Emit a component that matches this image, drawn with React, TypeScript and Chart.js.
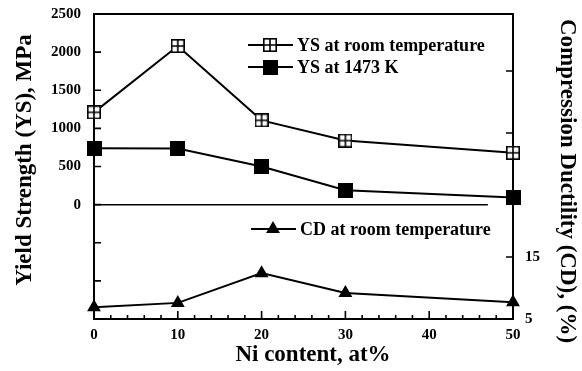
import React, { useEffect, useRef } from 'react';
import { Chart, registerables } from 'chart.js';

Chart.register(...registerables);

// ---- data ----
const niContent = [0, 10, 20, 30, 50];
const ysRoom = [1210, 2080, 1105, 840, 680];
const ys1473 = [740, 735, 500, 190, 95];
const cdRoom = [6.9, 7.6, 12.4, 9.2, 7.7];
const zeroLineX = [0, 47];
const zeroLineY = [0, 0];

const xMajorTicks = [0, 10, 20, 30, 40, 50];
const xMinorStep = 2;
const ysTicks = [-1500, -1000, -500, 0, 500, 1000, 1500, 2000, 2500];
const cdTicks = [5, 15, 25, 35, 45];
const cdLabelled = [5, 15];

const seriesLabels = ['YS at room temperature', 'YS at 1473 K', 'CD at room temperature'];
const xTitle = 'Ni content, at%';
const yTitle = 'Yield Strength (YS), MPa';
const y2Title = 'Compression Ductility (CD), (%)';

const FONT = '"Liberation Serif", "Times New Roman", serif';

function makeBoxedPlus(size: number) {
  const c = document.createElement('canvas');
  c.width = size;
  c.height = size;
  const g = c.getContext('2d')!;
  g.fillStyle = '#fff';
  g.fillRect(0, 0, size, size);
  g.strokeStyle = '#000';
  g.lineWidth = 1.6;
  g.strokeRect(0.8, 0.8, size - 1.6, size - 1.6);
  g.beginPath();
  g.moveTo(size / 2, 0);
  g.lineTo(size / 2, size);
  g.moveTo(0, size / 2);
  g.lineTo(size, size / 2);
  g.stroke();
  return c;
}

function makeFilledSquare(size: number) {
  const c = document.createElement('canvas');
  c.width = size;
  c.height = size;
  const g = c.getContext('2d')!;
  g.fillStyle = '#000';
  g.fillRect(0, 0, size, size);
  return c;
}

export default function App() {
  const ref = useRef<HTMLCanvasElement>(null);

  useEffect(() => {
    const canvas = ref.current!;
    const boxedPlus = makeBoxedPlus(14);
    const filledSq = makeFilledSquare(15);

    const drawMarker = (ctx: CanvasRenderingContext2D, kind: number, x: number, y: number) => {
      if (kind === 0) ctx.drawImage(boxedPlus, x - 7, y - 7);
      else if (kind === 1) ctx.drawImage(filledSq, x - 7.5, y - 7.5);
      else {
        const r = 8;
        ctx.beginPath();
        ctx.moveTo(x, y - r);
        ctx.lineTo(x + r * Math.sin((2 * Math.PI) / 3), y - r * Math.cos((2 * Math.PI) / 3));
        ctx.lineTo(x + r * Math.sin((4 * Math.PI) / 3), y - r * Math.cos((4 * Math.PI) / 3));
        ctx.closePath();
        ctx.fillStyle = '#000';
        ctx.fill();
      }
    };

    const decor = {
      id: 'decor',
      beforeDatasetsDraw(chart: any) {
        const ctx: CanvasRenderingContext2D = chart.ctx;
        const { left, right, top, bottom } = chart.chartArea;
        const xs = chart.scales.x;
        const ys = chart.scales.y;
        const y2 = chart.scales.y2;
        ctx.save();
        ctx.strokeStyle = '#000';
        ctx.lineWidth = 2;
        ctx.strokeRect(left, top, right - left, bottom - top);

        // inward ticks
        ctx.lineWidth = 1.6;
        ctx.beginPath();
        for (let v = xs.min; v <= xs.max + 1e-9; v += xMinorStep) {
          const px = xs.getPixelForValue(v);
          const len = xMajorTicks.includes(v) ? 8 : 4;
          ctx.moveTo(px, bottom);
          ctx.lineTo(px, bottom - len);
        }
        ysTicks.forEach((v) => {
          const py = ys.getPixelForValue(v);
          ctx.moveTo(left, py);
          ctx.lineTo(left + 7, py);
        });
        cdTicks.forEach((v) => {
          const py = y2.getPixelForValue(v);
          ctx.moveTo(right, py);
          ctx.lineTo(right - 7, py);
        });
        ctx.stroke();
        ctx.restore();
      },
      afterDraw(chart: any) {
        const ctx: CanvasRenderingContext2D = chart.ctx;
        ctx.save();
        // axis titles
        ctx.fillStyle = '#000';
        ctx.strokeStyle = '#000';
        ctx.font = `bold 23px ${FONT}`;
        ctx.textAlign = 'center';
        ctx.textBaseline = 'middle';
        ctx.fillText(xTitle, 313, 355);
        ctx.save();
        ctx.translate(25, 160);
        ctx.rotate(-Math.PI / 2);
        ctx.fillText(yTitle, 0, 0);
        ctx.restore();
        ctx.save();
        ctx.translate(567, 181);
        ctx.rotate(Math.PI / 2);
        ctx.fillText(y2Title, 0, 0);
        ctx.restore();

        // legend
        const entries = [
          { x: 248, y: 45 },
          { x: 248, y: 67 },
          { x: 251, y: 229 },
        ];
        ctx.font = `bold 18px ${FONT}`;
        ctx.textAlign = 'left';
        ctx.textBaseline = 'middle';
        entries.forEach((e, i) => {
          ctx.lineWidth = 2;
          ctx.beginPath();
          ctx.moveTo(e.x, e.y);
          ctx.lineTo(e.x + 45, e.y);
          ctx.stroke();
          drawMarker(ctx, i, e.x + 22, e.y);
          ctx.fillStyle = '#000';
          ctx.fillText(seriesLabels[i], e.x + 49, e.y + 1);
        });
        ctx.restore();
      },
    };

    const pts = (xs: number[], ys: number[]) => xs.map((x, i) => ({ x, y: ys[i] }));

    const tickFont = { family: FONT, size: 15, weight: 'bold' };
    const noPad = (s: any) => {
      s.paddingTop = 0;
      s.paddingBottom = 0;
      s.paddingLeft = 0;
      s.paddingRight = 0;
    };

    const chart = new Chart(canvas, {
      type: 'line',
      data: {
        datasets: [
          {
            label: seriesLabels[0],
            data: pts(niContent, ysRoom),
            yAxisID: 'y',
            borderColor: '#000',
            borderWidth: 2,
            pointStyle: boxedPlus as any,
            pointRadius: 7,
            clip: false,
          },
          {
            label: seriesLabels[1],
            data: pts(niContent, ys1473),
            yAxisID: 'y',
            borderColor: '#000',
            borderWidth: 2,
            pointStyle: filledSq as any,
            pointRadius: 7,
            clip: false,
          },
          {
            label: seriesLabels[2],
            data: pts(niContent, cdRoom),
            yAxisID: 'y2',
            borderColor: '#000',
            backgroundColor: '#000',
            borderWidth: 2,
            pointStyle: 'triangle',
            pointRadius: 8,
            pointBorderWidth: 0,
            clip: false,
          },
          {
            label: 'zero',
            data: pts(zeroLineX, zeroLineY),
            yAxisID: 'y',
            borderColor: '#000',
            borderWidth: 1.5,
            pointRadius: 0,
          },
        ],
      },
      options: {
        responsive: false,
        animation: false,
        layout: { padding: { top: 14, left: 0, right: 0, bottom: 0 } },
        plugins: { legend: { display: false }, tooltip: { enabled: false } },
        scales: {
          x: {
            type: 'linear',
            min: 0,
            max: 50,
            afterBuildTicks: (s: any) => {
              s.ticks = xMajorTicks.map((v) => ({ value: v }));
            },
            afterFit: (s: any) => {
              s.height = 52;
              noPad(s);
            },
            grid: { display: false, drawTicks: false },
            border: { display: false },
            ticks: { color: '#000', font: tickFont, padding: 7, maxRotation: 0, autoSkip: false },
          },
          y: {
            type: 'linear',
            position: 'left',
            min: -1500,
            max: 2500,
            afterBuildTicks: (s: any) => {
              s.ticks = ysTicks.map((v) => ({ value: v }));
            },
            afterFit: (s: any) => {
              s.width = 94;
              noPad(s);
            },
            grid: { display: false, drawTicks: false },
            border: { display: false },
            ticks: {
              color: '#000',
              font: tickFont,
              padding: 13,
              autoSkip: false,
              callback: (v: any) => (Number(v) >= 0 ? String(v) : ''),
            },
          },
          y2: {
            type: 'linear',
            position: 'right',
            min: 5,
            max: 54.2,
            afterBuildTicks: (s: any) => {
              s.ticks = cdTicks.map((v) => ({ value: v }));
            },
            afterFit: (s: any) => {
              s.width = 69;
              noPad(s);
            },
            grid: { display: false, drawTicks: false },
            border: { display: false },
            ticks: {
              color: '#000',
              font: tickFont,
              padding: 12,
              autoSkip: false,
              callback: (v: any) => (cdLabelled.includes(Number(v)) ? String(v) : ''),
            },
          },
        },
      },
      plugins: [decor],
    } as any);

    return () => chart.destroy();
  }, []);

  return (
    <div style={{ position: 'fixed', left: 0, top: 0, width: 582, height: 371, background: '#fff' }}>
      <canvas ref={ref} width={582} height={371} style={{ display: 'block' }} />
    </div>
  );
}
